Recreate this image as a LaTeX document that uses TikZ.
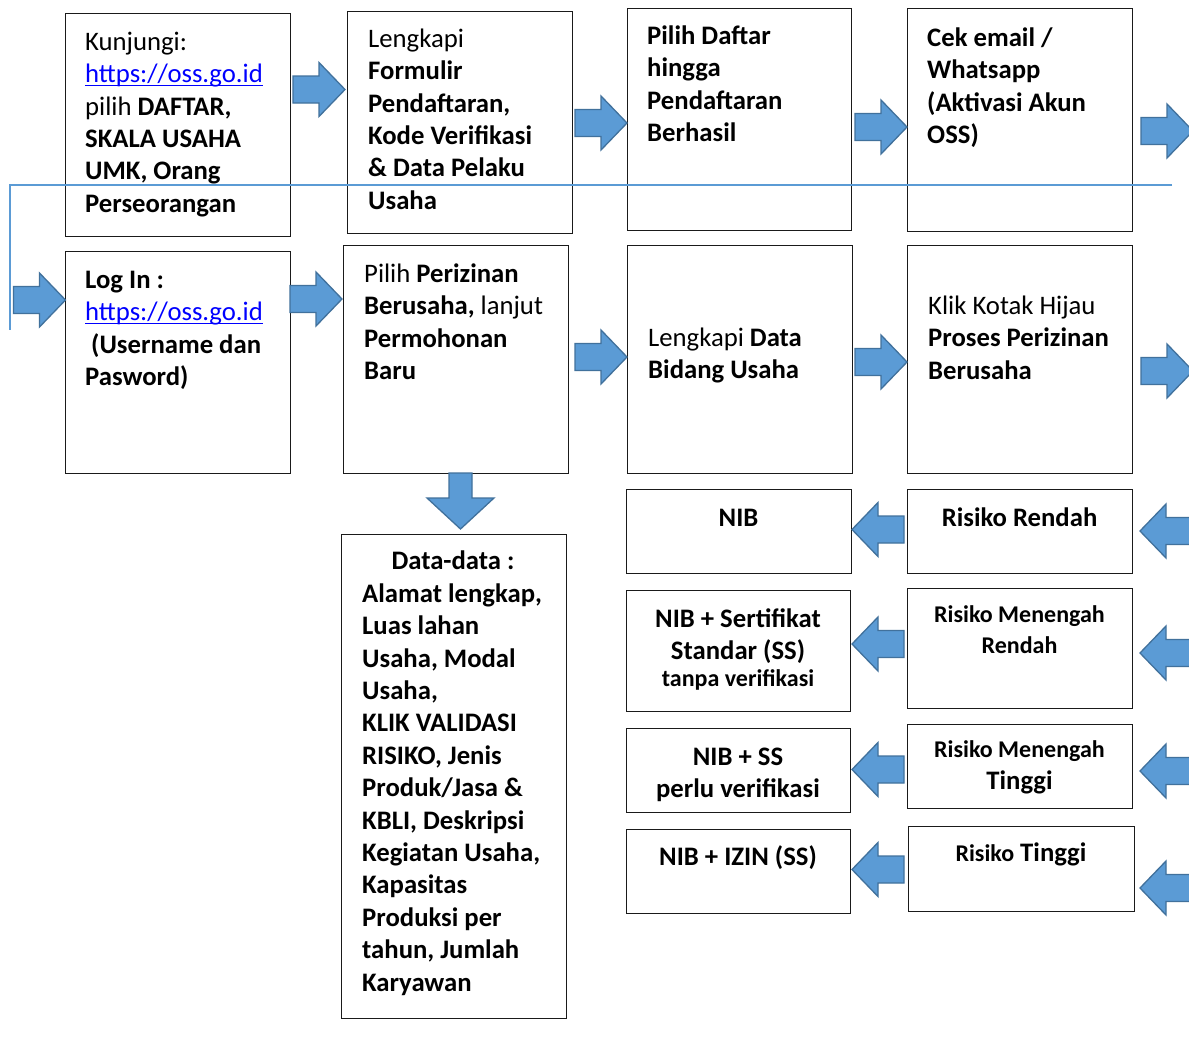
\documentclass[tikz,border=0pt]{standalone}
\usepackage{fontspec}
\setmainfont{Carlito}
\definecolor{arrowfill}{HTML}{5B9BD5}
\definecolor{arrowline}{HTML}{41719C}
\definecolor{linkblue}{HTML}{0000FF}
\definecolor{boxline}{HTML}{1A1A1A}
\newcommand\lnk[1]{{\color{linkblue}\setbox0=\hbox{#1}\rlap{\rule[-3.5pt]{\wd0}{1.6pt}}\box0}}
\newcommand\tl{\rule{0pt}{24pt}}
\begin{document}
\begin{tikzpicture}[x=1pt,y=-1pt,
  box/.style={draw=boxline, line width=1.4pt, fill=white, inner sep=0pt, anchor=north west},
  txt/.style={inner sep=0pt, anchor=north west, align=left, font=\fontsize{26.7}{32.4}\selectfont},
  ln/.style={inner sep=0pt, anchor=base, font=\fontsize{26.7}{32.4}\selectfont\bfseries},
  sm/.style={inner sep=0pt, anchor=base, font=\fontsize{24}{28}\selectfont\bfseries},
  barrow/.style={fill=arrowfill, draw=arrowline, line width=1.3pt, line join=miter},
  conn/.style={draw=arrowfill, line width=1.2pt},
  rarr/.pic={\path[barrow] (-26,-13.5) -- (0,-13.5) -- (0,-27) -- (26,0) -- (0,27) -- (0,13.5) -- (-26,13.5) -- cycle;},
  larr/.pic={\path[barrow] (26,-13.5) -- (0,-13.5) -- (0,-27) -- (-26,0) -- (0,27) -- (0,13.5) -- (26,13.5) -- cycle;},
  darr/.pic={\path[barrow] (-11.5,0) -- (11.5,0) -- (11.5,25) -- (33.5,25) -- (0,56) -- (-33.5,25) -- (-11.5,25) -- cycle;}
]
\useasboundingbox (0,0) rectangle (1189,1050);
\fill[white] (0,0) rectangle (1189,1050);
\clip (0,0) rectangle (1189,1050);

% ---- row 1 boxes
\node[box, minimum width=225, minimum height=223] (A) at (65,13) {};
\node[box, minimum width=225, minimum height=222] (B) at (347,11) {};
\node[box, minimum width=224, minimum height=222] (C) at (627,8) {};
\node[box, minimum width=225, minimum height=223] (D) at (907,8) {};
% ---- row 2 boxes
\node[box, minimum width=225, minimum height=222] (E) at (65,251) {};
\node[box, minimum width=225, minimum height=228] (F) at (343,245) {};
\node[box, minimum width=225, minimum height=228] (G) at (627,245) {};
\node[box, minimum width=225, minimum height=228] (H) at (907,245) {};
% ---- data box
\node[box, minimum width=225, minimum height=484] (DT) at (341,534) {};
% ---- result boxes
\node[box, minimum width=225, minimum height=84] (R1) at (626,489) {};
\node[box, minimum width=225, minimum height=84] (K1) at (907,489) {};
\node[box, minimum width=224, minimum height=121] (R2) at (626,590) {};
\node[box, minimum width=225, minimum height=120] (K2) at (907,588) {};
\node[box, minimum width=224, minimum height=84] (R3) at (626,728) {};
\node[box, minimum width=225, minimum height=84] (K3) at (907,724) {};
\node[box, minimum width=224, minimum height=84] (R4) at (626,829) {};
\node[box, minimum width=226, minimum height=85] (K4) at (908,826) {};

% ---- block arrows
\pic at (319,89.5) {rarr};
\pic at (601,123) {rarr};
\pic at (881,127) {rarr};
\pic at (1167,131) {rarr};
\pic at (39.5,300) {rarr};
\pic at (316,299) {rarr};
\pic at (601,357) {rarr};
\pic at (881,362) {rarr};
\pic at (1167,371) {rarr};
\pic at (460.5,473) {darr};
\pic at (878,529.5) {larr};
\pic at (878,644) {larr};
\pic at (878,769.5) {larr};
\pic at (878,869.5) {larr};
\pic at (1166,531) {larr};
\pic at (1166,653) {larr};
\pic at (1166,771) {larr};
\pic at (1166,888) {larr};

% ---- texts
\node[txt] (At) at (85,26) {\tl Kunjungi:\\ \lnk{https://oss.go.id}\\ pilih \textbf{DAFTAR,}\\ \textbf{SKALA USAHA}\\ \textbf{UMK, Orang}\\ \textbf{Perseorangan}};
\node[txt] (Bt) at (368,23) {\tl Lengkapi\\ \textbf{Formulir}\\ \textbf{Pendaftaran,}\\ \textbf{Kode Verifikasi}\\ \textbf{\& Data Pelaku}\\ \textbf{Usaha}};
\node[txt, font=\fontsize{26.7}{32.4}\selectfont\bfseries] (Ct) at (647,20) {\tl Pilih Daftar\\ hingga\\ Pendaftaran\\ Berhasil};
\node[txt, font=\fontsize{26.7}{32.4}\selectfont\bfseries] (Dt) at (927,22) {\tl Cek email /\\ Whatsapp\\ (Aktivasi Akun\\ OSS)};
\node[txt] (Et) at (85,264) {\tl\textbf{Log In :}\\ \lnk{https://oss.go.id}\\ \hspace*{6pt}\textbf{(Username dan}\\ \textbf{Pasword)}};
\node[txt] (Ft) at (364,258) {\tl Pilih \textbf{Perizinan}\\ \textbf{Berusaha,} lanjut\\ \textbf{Permohonan}\\ \textbf{Baru}};
\node[txt] (Gt) at (648,322) {\tl Lengkapi \textbf{Data}\\ \textbf{Bidang Usaha}};
\node[txt] (Ht) at (928,290) {\tl Klik Kotak Hijau\\ \textbf{Proses Perizinan}\\ \textbf{Berusaha}};
\node[ln] (DTh) at (453,569) {Data-data :};
\node[txt, font=\fontsize{26.7}{32.4}\selectfont\bfseries] (DTt) at (362,578) {\tl Alamat lengkap,\\ Luas lahan\\ Usaha, Modal\\ Usaha,\\ KLIK VALIDASI\\ RISIKO, Jenis\\ Produk/Jasa \&\\ KBLI, Deskripsi\\ Kegiatan Usaha,\\ Kapasitas\\ Produksi per\\ tahun, Jumlah\\ Karyawan};

\node[ln] (R1t) at (738.5,526) {NIB};
\node[ln] (K1t) at (1019.5,526) {Risiko Rendah};
\node[ln] (R2a) at (738,627) {NIB + Sertifikat};
\node[ln] (R2b) at (738,659) {Standar (SS)};
\node[sm] (R2c) at (738,686) {tanpa verifikasi};
\node[sm] (K2a) at (1019.5,622) {Risiko Menengah};
\node[sm] (K2b) at (1019.5,653) {Rendah};
\node[ln] (R3a) at (738,765) {NIB + SS};
\node[ln] (R3b) at (738,797) {perlu verifikasi};
\node[sm] (K3a) at (1019.5,757) {Risiko Menengah};
\node[ln] (K3b) at (1019.5,789) {Tinggi};
\node[ln] (R4t) at (738,865) {NIB + IZIN (SS)};
\node[ln] (K4t) at (1021,861) {{\fontsize{24}{28}\selectfont Risiko} Tinggi};

% ---- thin connector line from row 1 to row 2
\coordinate (c1) at (1172,185);
\coordinate (c2) at (10,185);
\coordinate (c3) at (10,330);
\draw[conn] (c1) -- (c2) -- (c3);
\end{tikzpicture}
\end{document}
